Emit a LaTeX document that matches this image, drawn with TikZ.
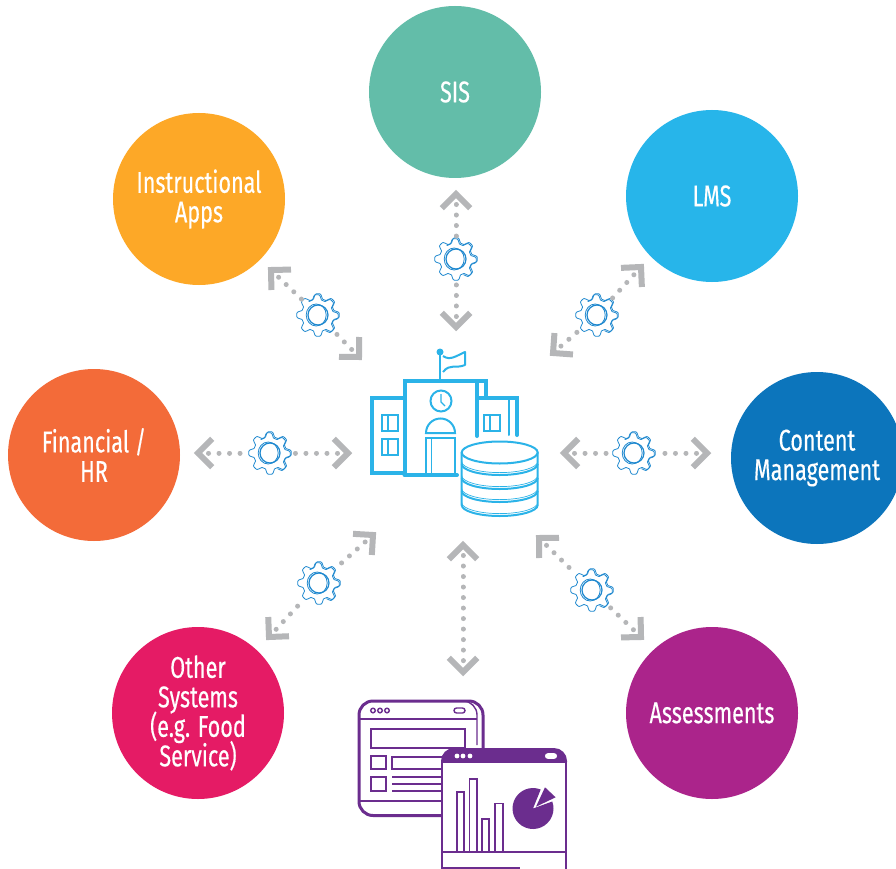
\documentclass[tikz,border=0pt]{standalone}
\usepackage{fontspec}
\setmainfont[FakeStretch=0.72,FakeBold=0.35]{Fira Sans}
\usetikzlibrary{calc}
\definecolor{sisc}{HTML}{63BDA9}
\definecolor{appc}{HTML}{FDA827}
\definecolor{lmsc}{HTML}{27B5EA}
\definecolor{conc}{HTML}{0C75BC}
\definecolor{finc}{HTML}{F36B39}
\definecolor{othc}{HTML}{E51B65}
\definecolor{assc}{HTML}{AB248B}
\definecolor{bldc}{HTML}{2BB3E8}
\definecolor{gearc}{HTML}{1E88CF}
\definecolor{purc}{HTML}{6B2D8E}
\definecolor{grayc}{HTML}{B5B6B8}
\newcommand{\hubfont}{\fontsize{30}{29.5}\selectfont\setlength{\lineskiplimit}{-30pt}}
\tikzset{
  hub/.style={circle,minimum size=172pt,inner sep=0pt,text=white,align=center,
    font=\hubfont},
  gearbox/.style={circle,minimum size=44pt,inner sep=0pt},
  gearline/.style={draw=gearc,line width=0.8pt},
  dotline/.style={draw=grayc,line width=5pt,line cap=round,dash pattern=on 0.01pt off 10.5pt},
  chev/.style={draw=grayc,line width=6pt,miter limit=10},
  bld/.style={draw=bldc,line width=4pt},
  bldt/.style={draw=bldc,line width=2pt},
  pur/.style={draw=purc,line width=3pt},
  purt/.style={draw=purc,line width=1.4pt},
}
\newcommand{\gearat}[2]{%
  \node[gearbox] (#1) at (#2) {};
  \begin{scope}[shift={(#1.center)}]
    \draw[gearline,fill=white] plot[domain=0:360,samples=145,smooth] (\x:{(18.8+2.4*max(min(1.6*cos(8*\x),1),-1))*1pt}) -- cycle;
    \draw[gearline,xshift=-1pt,yshift=-1pt] plot[domain=-60:120,samples=73,smooth] (\x:{(18.8+2.4*max(min(1.6*cos(8*\x),1),-1))*1pt});
    \draw[gearline,line width=1.2pt] (0pt,0pt) circle[radius=10pt];
    \draw[gearline] (-1.8pt,0pt) circle[x radius=10pt,y radius=11pt];
  \end{scope}}
\newcommand{\tipat}[2]{%
  \draw[chev] ($(#1)!20pt!45:(#2)$) -- (#1) -- ($(#1)!20pt!-45:(#2)$);}
\newcommand{\linkgear}[2]{%
  \draw[dotline] (#2) -- (#1);
  \tipat{#2}{#1}}
\begin{document}
\begin{tikzpicture}[x=1pt,y=-1pt]
\useasboundingbox (0,0) rectangle (896,869);
\clip (0,0) rectangle (896,869);
\fill[white] (0,0) rectangle (896,869);
% hubs
\node[hub,fill=sisc] (sis) at (455,92) {SIS};
\node[hub,fill=appc] (apps) at (199,199) {Instructional\\Apps};
\node[hub,fill=lmsc] (lms) at (712,196) {LMS};
\node[hub,fill=conc] (cont) at (817,458) {Content\\Management};
\node[hub,fill=finc] (fin) at (94,455) {Financial /\\HR};
\node[hub,fill=othc] (oth) at (198,713) {Other\\Systems\\(e.g. Food\\Service)};
\node[hub,fill=assc] (ass) at (712,713) {Assessments};
% arrow ends
\coordinate (t1) at (456,194);
\coordinate (t2) at (456,327);
\coordinate (l1) at (641,267);
\coordinate (l2) at (553,353);
\coordinate (c1) at (564,453);
\coordinate (c2) at (707,453);
\coordinate (a1) at (539,538);
\coordinate (a2) at (641,637);
\coordinate (b1) at (463,545);
\coordinate (b2) at (463,672);
\coordinate (o1) at (373,535);
\coordinate (o2) at (269,637);
\coordinate (f1) at (198,453);
\coordinate (f2) at (348,453);
\coordinate (p1) at (271,270);
\coordinate (p2) at (359,357);
% connectors
\gearat{gt}{456,259}
\gearat{gl}{597,315}
\gearat{gc}{634,453}
\gearat{ga}{592,590}
\gearat{go}{319,583}
\gearat{gf}{270,453}
\gearat{gp}{318,315}
\linkgear{gt}{t1}\linkgear{gt}{t2}
\linkgear{gl}{l1}\linkgear{gl}{l2}
\linkgear{gc}{c1}\linkgear{gc}{c2}
\linkgear{ga}{a1}\linkgear{ga}{a2}
\linkgear{go}{o1}\linkgear{go}{o2}
\linkgear{gf}{f1}\linkgear{gf}{f2}
\linkgear{gp}{p1}\linkgear{gp}{p2}
\draw[dotline] (b1) -- (b2);
\tipat{b1}{b2}\tipat{b2}{b1}
% building
\draw[bldt] (440,381) -- (440,353);
\fill[bldc] (440,352) circle[radius=3.5pt];
\draw[bldt,line join=round] (443,356) .. controls (450,361) and (456,356) .. (465,352) -- (465,365) .. controls (456,369) and (450,363) .. (443,372);
\draw[bld] (404.5,475) -- (404.5,381) -- (486,381) -- (486,397);
\draw[bld,line cap=round] (477,381) -- (477,436);
\draw[bld,line cap=round] (404.5,475) -- (457,475);
\draw[bld] (404,398) -- (372,398) -- (372,473) -- (404,473);
\draw[bld,line cap=round] (477,398) -- (517,398) -- (517,435);
\draw[bldt,line cap=round] (509,398) -- (509,435);
\draw[bldt] (382,415) rectangle (398,431) (388,415) -- (388,431);
\draw[bldt] (382,439) rectangle (398,455) (388,439) -- (388,455);
\draw[bldt] (484,415) rectangle (500,431) (490,415) -- (490,431);
\draw[bldt] (441,401) circle[radius=10.5pt];
\draw[bldc,line width=1.2pt] (441,394) -- (441,402) -- (445,406);
\draw[bldt] (426,433) arc[start angle=180,end angle=0,radius=14.5pt] -- cycle;
\draw[bldt] (426,475) -- (426,438) -- (455,438) -- (455,475);
\draw[bldc,line width=1.2pt] (431.5,438) -- (431.5,475);
% database
\fill[white] (461.7,452.5) -- (461.7,505) arc[start angle=180,end angle=360,x radius=38pt,y radius=11pt] -- (537.7,452.5) arc[start angle=0,end angle=180,x radius=38pt,y radius=11pt] -- cycle;
\draw[bldt] (499.7,452.5) circle[x radius=38pt,y radius=11pt];
\draw[bldt] (461.7,452.5) -- (461.7,505) arc[start angle=180,end angle=360,x radius=38pt,y radius=11pt] -- (537.7,452.5);
\foreach \yy in {464,478,491}{
  \draw[bldt] (461.7,\yy) arc[start angle=180,end angle=360,x radius=38pt,y radius=11pt];
  \draw[bldc,line width=0.7pt] (461.7,\yy-2.4) arc[start angle=180,end angle=360,x radius=38pt,y radius=11pt];
}
\draw[bldc,line width=0.7pt] (461.7,502.6) arc[start angle=180,end angle=360,x radius=38pt,y radius=11pt];
% back window
\draw[pur,rounded corners=14pt] (359,815.5) -- (359,701) -- (483,701) -- (483,815.5) -- cycle;
\draw[purt,rounded corners=14pt] (470,701) -- (477,701) -- (477,745);
\draw[purt] (359,719) -- (477,719);
\draw[purt] (373,710.5) circle[radius=2.3pt] (380,710.5) circle[radius=2.3pt] (387,710.5) circle[radius=2.3pt];
\draw[purt,rounded corners=2.5pt] (454,708) rectangle (465,713);
\draw[pur,line width=2pt] (371,729) rectangle (465,748);
\draw[pur,line width=2pt] (371,756) rectangle (386,769);
\draw[pur,line width=2pt] (371,777) rectangle (386,791);
\draw[pur,line width=2pt] (392,757) rectangle (445,769);
\draw[purt,line width=1.8pt] (392,777) -- (445,777) (392,784) -- (445,784) (392,791) -- (445,791);
\draw[purt] (359,801) -- (445,801);
% front window
\draw[draw=purc,line width=2pt,fill=white] (442,880) -- (442,763) -- (566,763) -- (566,880) -- cycle;
\fill[purc,rounded corners=13pt] (441,775) -- (441,748) -- (567,748) -- (567,775) -- cycle;
\fill[white] (441,763) rectangle (567,776);
\draw[draw=purc,line width=2pt] (442,763) -- (442,777) (566,763) -- (566,777);
\fill[white] (457,756) circle[radius=2.4pt] (463,756) circle[radius=2.4pt] (470,756) circle[radius=2.4pt];
\fill[white,rounded corners=2.7pt] (545,753.2) rectangle (557,758.8);
\draw[draw=purc,line width=2pt] (442,852) -- (566,852);
\draw[draw=purc,line width=2pt] (442,868) -- (520,868);
\draw[purt] (457,852) -- (457,792) -- (464,792) -- (464,852);
\draw[purt] (469.5,852) -- (469.5,779) -- (477,779) -- (477,852);
\draw[purt] (482,852) -- (482,819) -- (489,819) -- (489,852);
\draw[purt] (495,852) -- (495,803.5) -- (503,803.5) -- (503,852);
\fill[purc] (533,808.5) -- ++(68:20.5pt) arc[start angle=68,end angle=380,radius=20.5pt] -- cycle;
\fill[purc] (545,787.3) -- (555.6,797.3) -- (536,806.7) -- cycle;
\end{tikzpicture}
\end{document}
